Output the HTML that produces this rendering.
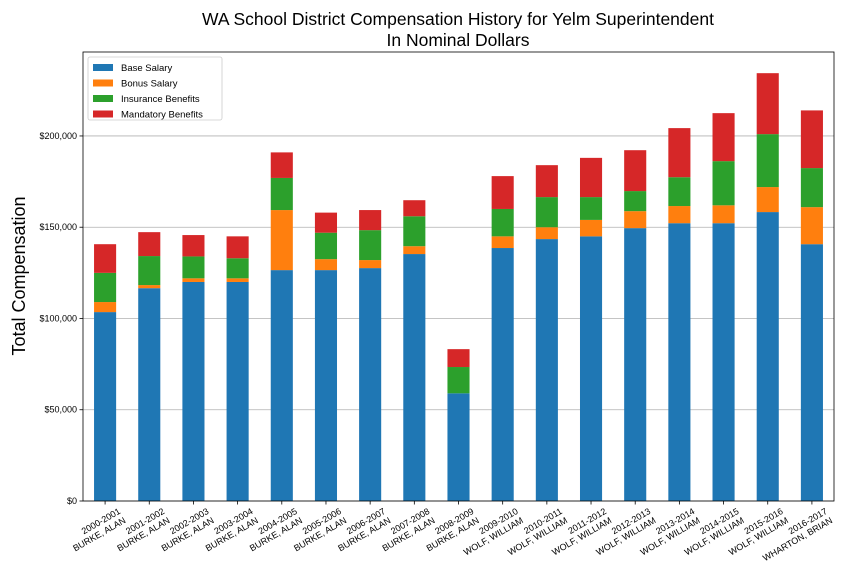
<!DOCTYPE html>
<html><head><meta charset="utf-8"><style>
body{margin:0;background:#fff;font-family:"Liberation Sans","DejaVu Sans",sans-serif}
svg{display:block}
</style></head><body>
<svg id="chart" width="864" height="576" xmlns="http://www.w3.org/2000/svg" font-family="Liberation Sans, DejaVu Sans, sans-serif">
<rect width="864" height="576" fill="#fff"/>
<text x="458" y="25" font-size="17.5" text-anchor="middle">WA School District Compensation History for Yelm Superintendent</text>
<text x="458" y="46" font-size="17.5" text-anchor="middle">In Nominal Dollars</text>
<text transform="translate(25,276) rotate(-90)" font-size="18" text-anchor="middle">Total Compensation</text>
<g id="grid"></g><g id="bars"></g><g id="axes"></g><g id="legend"></g>
</svg>
<script>
const categories=["2000-2001|BURKE, ALAN","2001-2002|BURKE, ALAN","2002-2003|BURKE, ALAN","2003-2004|BURKE, ALAN","2004-2005|BURKE, ALAN","2005-2006|BURKE, ALAN","2006-2007|BURKE, ALAN","2007-2008|BURKE, ALAN","2008-2009|BURKE, ALAN","2009-2010|WOLF, WILLIAM","2010-2011|WOLF, WILLIAM","2011-2012|WOLF, WILLIAM","2012-2013|WOLF, WILLIAM","2013-2014|WOLF, WILLIAM","2014-2015|WOLF, WILLIAM","2015-2016|WOLF, WILLIAM","2016-2017|WHARTON, BRIAN"];
const baseSalary=[103500,116600,120000,120000,126500,126500,127600,135300,59000,138600,143500,145000,149500,152200,152200,158300,140700];
const bonusSalary=[5500,1700,2000,2000,32900,6000,4400,4300,0,6400,6500,9000,9300,9400,9800,13700,20300];
const insuranceBenefits=[16000,15900,12000,11000,17600,14500,16400,16400,14400,15000,16500,12500,11000,15800,24200,29000,21400];
const mandatoryBenefits=[15700,13100,11700,12000,14000,11000,11000,8800,9800,18000,17500,21500,22400,26900,26300,33400,31600];
const yTicks=[0,50000,100000,150000,200000];
const seriesNames=["Base Salary","Bonus Salary","Insurance Benefits","Mandatory Benefits"];
const NS="http://www.w3.org/2000/svg";
const L=83,R=834,T=52,B=501,YMAX=246000;
const colors=["#1f77b4","#ff7f0e","#2ca02c","#d62728"];
const y=v=>B-(v/YMAX)*(B-T);
const step=(R-L)/categories.length;
const x=i=>L+step*(i+0.5);
function mk(tag,attrs,parent){const e=document.createElementNS(NS,tag);for(const k in attrs)e.setAttribute(k,attrs[k]);parent.appendChild(e);return e;}
const grid=document.getElementById('grid'),bars=document.getElementById('bars'),axes=document.getElementById('axes'),legend=document.getElementById('legend');
yTicks.forEach(t=>{
  const g=mk('line',{x1:L,x2:R,y1:y(t),y2:y(t),stroke:'#b0b0b0','stroke-width':0.8},grid);
  
  
  const tk=mk('line',{x1:L-3.5,x2:L,y1:y(t),y2:y(t),stroke:'#000','stroke-width':0.8},axes);
  
  
  const tx=mk('text',{x:L-6,y:y(t)+3,'font-size':9,'text-anchor':'end'},axes);
  tx.textContent='$'+t.toLocaleString('en-US');
  
  
});
const series=[baseSalary,bonusSalary,insuranceBenefits,mandatoryBenefits];
const bw=step*0.5;
categories.forEach((c,i)=>{
  let acc=0;
  series.forEach((s,k)=>{
    const v=s[i];
    const r=mk('rect',{x:x(i)-bw/2,y:y(acc+v),width:bw,height:y(acc)-y(acc+v),fill:colors[k]},bars);
    
    
    acc+=v;
  });
  const tk=mk('line',{x1:x(i),x2:x(i),y1:B,y2:B+3.5,stroke:'#000','stroke-width':0.8},axes);
  
  
  const parts=c.split('|');
  const t=mk('text',{transform:`translate(${x(i)+16},${B+12}) rotate(-30)`,'font-size':9,'text-anchor':'end'},axes);
  
  
  parts.forEach((p,j)=>{const ts=mk('tspan',{x:0,dy:j?10.5:0},t);ts.textContent=p;});
});
const fr=mk('rect',{x:L,y:T,width:R-L,height:B-T,fill:'none',stroke:'#000','stroke-width':0.8},axes);


const lb=mk('rect',{x:88,y:57,width:134,height:63,fill:'#fff','fill-opacity':0.85,stroke:'#ccc','stroke-width':0.8,rx:2},legend);


seriesNames.forEach((n,k)=>{
  const yy=64+k*15.5;
  const sw=mk('rect',{x:93,y:yy,width:20,height:7,fill:colors[k]},legend);
  
  
  const t=mk('text',{x:121,y:yy+7,'font-size':9.5},legend);
  t.textContent=n;
  
  
});
</script>
</body></html>
